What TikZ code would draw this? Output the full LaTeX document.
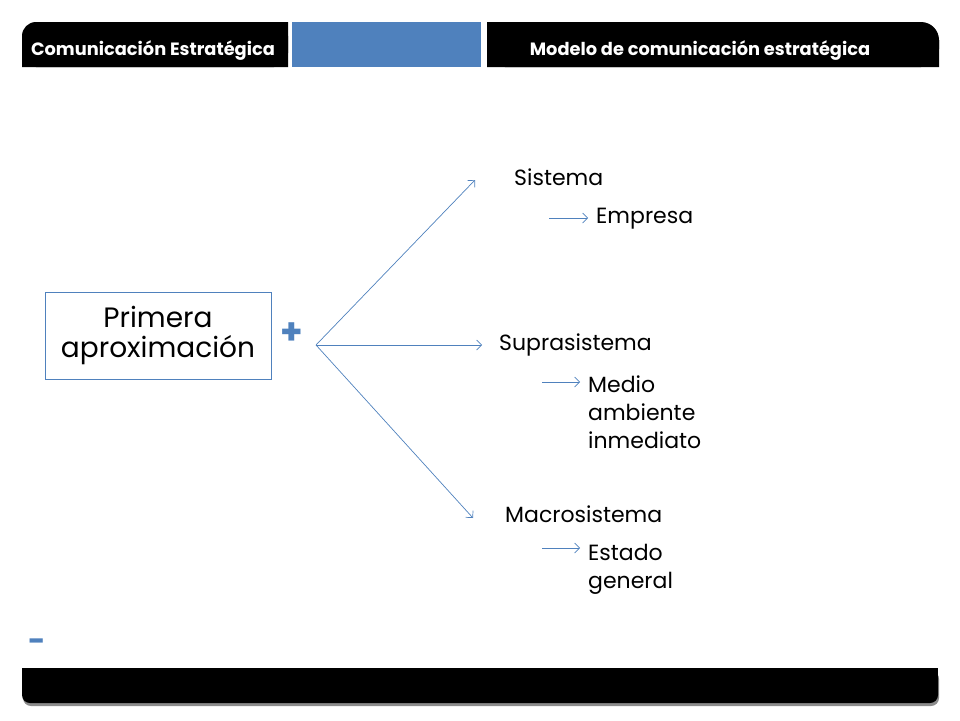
\documentclass[tikz,border=0pt]{standalone}
\usepackage{fontspec}
\setmainfont{Poppins}
\usetikzlibrary{arrows.meta}
\definecolor{accent}{RGB}{79,129,189}

\begin{document}
\begin{tikzpicture}[x=1pt, y=-1pt,
    link/.style={draw=accent, -{Straight Barb[length=5pt, width=10pt]}, line width=0.7pt},
    term/.style={anchor=base west, inner sep=0pt, align=left,
      font=\fontsize{22}{28}\selectfont},
    headtext/.style={text=white, anchor=base, inner sep=0pt,
      font=\fontsize{17.8}{18}\selectfont\bfseries}]

  \useasboundingbox (0,0) rectangle (960,720);

  % Header bars
  \fill[rounded corners=14pt] (22,22) rectangle (288,67);
  \fill (22,40) rectangle (288,67) (40,22) rectangle (288,67);
  \fill[accent] (292,22) rectangle (481,67);
  \fill[rounded corners=18pt] (487,22) rectangle (939,67);
  \fill (487,40) rectangle (939,67) (487,22) rectangle (915,67);
  \node[headtext] (curso) at (153,55) {Comunicación Estratégica};
  \node[headtext] (tema) at (700,55) {Modelo de comunicación estratégica};

  % Footer bar
  \fill[black!45, rounded corners=8pt] (23,671) rectangle (939,706);
  \fill[rounded corners=8pt] (22,668) rectangle (938,703);
  \fill (22,668) rectangle (938,688);

  % Main box and the branches
  \node[draw=accent, minimum width=226pt, minimum height=87pt, align=center,
    font=\fontsize{28}{30}\selectfont] (prima) at (158,335.5)
    {Primera\\aproximación};
  \node[text=accent, font=\fontsize{36}{36}\selectfont\bfseries] (mas) at (292,334) {+};
  \node[text=accent, font=\fontsize{30}{30}\selectfont\bfseries] (menos) at (37,645) {-};

  \coordinate (hub) at (316,345);
  \coordinate (toSis) at (475,180);
  \coordinate (toSup) at (482,345);
  \coordinate (toMac) at (473,518);

  \draw[link] (hub) -- (toSis);
  \draw[link] (hub) -- (toSup);
  \draw[link] (hub) -- (toMac);

  % Levels (base of a node with several lines is its last line)
  \node[term] (sistema) at (514,185) {Sistema};
  \node[term] (empresa) at (596,223) {Empresa};
  \node[term] (supra) at (499,350) {Suprasistema};
  \node[term] (medio) at (588,448) {Medio\\ambiente\\inmediato};
  \node[term] (macro) at (505,522) {Macrosistema};
  \node[term] (estado) at (588,588) {Estado\\general};

  \draw[link] ([xshift=-47pt, yshift=5pt]empresa.base west) -- ([xshift=-8pt, yshift=5pt]empresa.base west);
  \draw[link] ([xshift=-46pt, yshift=66pt]medio.base west) -- ([xshift=-8pt, yshift=66pt]medio.base west);
  \draw[link] ([xshift=-46pt, yshift=40pt]estado.base west) -- ([xshift=-8pt, yshift=40pt]estado.base west);

\end{tikzpicture}
\end{document}
